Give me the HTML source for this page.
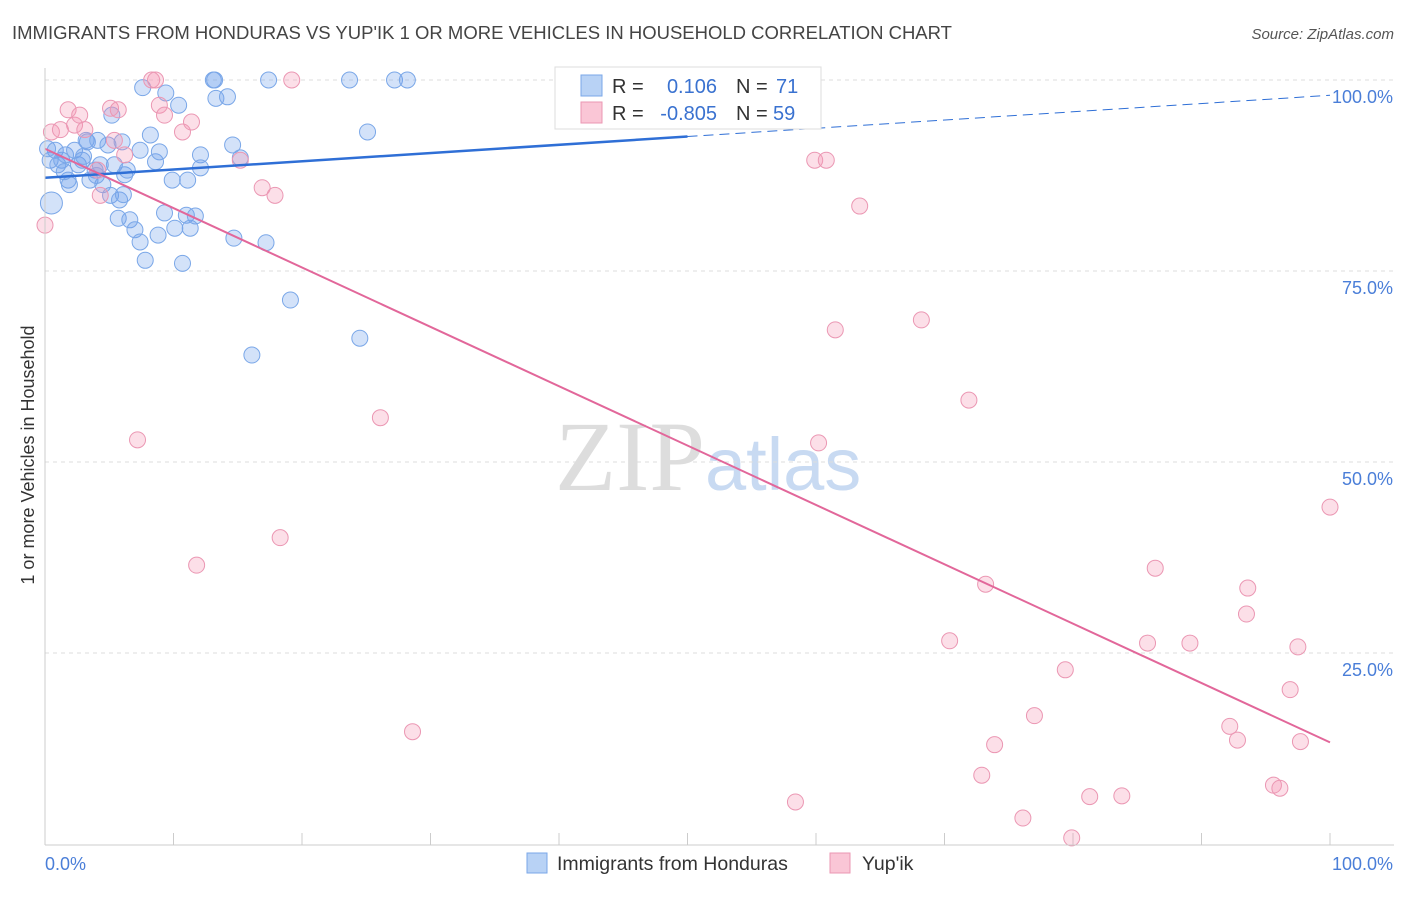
<!DOCTYPE html>
<html><head><meta charset="utf-8"><style>
body{margin:0;background:#fff;font-family:"Liberation Sans",sans-serif;}
svg text{font-family:"Liberation Sans",sans-serif;}
</style></head><body>
<svg id="chart" width="1406" height="892" xmlns="http://www.w3.org/2000/svg">
<text x="12" y="39" font-size="18.5" fill="#444">IMMIGRANTS FROM HONDURAS VS YUP'IK 1 OR MORE VEHICLES IN HOUSEHOLD CORRELATION CHART</text>
<text x="1394" y="39" font-size="15" fill="#555" font-style="italic" text-anchor="end">Source: ZipAtlas.com</text>
<text x="555" y="490" font-size="100"><tspan fill="#ddd" font-family="Liberation Serif">ZIP</tspan><tspan fill="#c8daf2" font-size="74">atlas</tspan></text>
<text transform="translate(34,455) rotate(-90)" font-size="18" fill="#333" text-anchor="middle">1 or more Vehicles in Household</text>
<g id="grid"></g><g id="ticks"></g><g id="marks"></g><g id="trends"></g>
<line x1="45" y1="68" x2="45" y2="845" stroke="#ccc"/>
<line x1="45" y1="845" x2="1394" y2="845" stroke="#ccc"/>
<text x="45" y="870" font-size="18" fill="#4a7ed8">0.0%</text>
<text x="1393" y="870" font-size="18" fill="#4a7ed8" text-anchor="end">100.0%</text>
<g>
<rect x="555" y="67" width="266" height="62" fill="#fff" stroke="#ddd"/>
<rect x="581" y="75" width="21" height="21" fill="#b8d2f5" stroke="#7aa7e8"/>
<rect x="581" y="102" width="21" height="21" fill="#fac6d6" stroke="#eb97b3"/>
<text x="612" y="93" font-size="20" fill="#333">R =</text><text x="717" y="93" font-size="20" fill="#3a72d0" text-anchor="end">0.106</text>
<text x="736" y="93" font-size="20" fill="#333">N =</text><text x="776" y="93" font-size="20" fill="#3a72d0">71</text>
<text x="612" y="120" font-size="20" fill="#333">R =</text><text x="717" y="120" font-size="20" fill="#3a72d0" text-anchor="end">-0.805</text>
<text x="736" y="120" font-size="20" fill="#333">N =</text><text x="773" y="120" font-size="20" fill="#3a72d0">59</text>
</g>
<g>
<rect x="527" y="853" width="20" height="20" fill="#b8d2f5" stroke="#7aa7e8"/>
<text x="557" y="870" font-size="19.5" fill="#333">Immigrants from Honduras</text>
<rect x="830" y="853" width="20" height="20" fill="#fac6d6" stroke="#eb97b3"/>
<text x="862" y="870" font-size="19.5" fill="#333">Yup'ik</text>
</g>
</svg>
<script>
const yTicks=[100,75,50,25];
const yTickLabels=["100.0%","75.0%","50.0%","25.0%"];
const xTicks=[0,10,20,30,40,50,60,70,80,90,100];
const blueX=[0.4,0.5,0.8,1.0,1.3,1.6,1.8,1.9,2.3,2.6,2.9,3.2,3.3,3.5,3.9,4.1,4.3,4.5,4.9,5.1,5.2,5.4,5.7,5.8,6.0,6.2,6.4,6.6,7.0,7.4,7.8,7.4,7.6,8.2,8.6,8.8,8.9,9.3,9.4,9.9,10.1,10.4,10.7,11.0,11.1,11.3,11.7,12.1,12.1,13.1,13.2,13.3,14.2,14.6,14.7,15.2,16.1,17.2,17.4,19.1,23.7,24.5,25.1,27.2,28.2,40.5,0.2,1.5,3.0,4.0,6.1];
const blueY=[89.5,83.9,90.8,88.9,89.5,90.2,86.9,86.3,90.8,88.9,89.5,92.1,91.9,86.9,88.2,92.1,88.9,86.3,91.5,84.9,95.4,88.9,81.9,84.3,91.9,87.6,88.2,81.7,80.4,78.8,76.4,90.8,99.0,92.8,89.3,79.7,90.6,82.6,98.3,86.9,80.6,96.7,76.0,82.3,86.9,80.6,82.2,90.2,88.5,100,100,97.6,97.8,91.5,79.3,89.8,64.0,78.7,100,71.2,100,66.2,93.2,100,100,100,91.0,88.0,90.0,87.5,85.0];
const blueSize=[8,11,8,8,8,8,8,8,8,8,8,8,8,8,8,8,8,8,8,8,8,8,8,8,8,8,8,8,8,8,8,8,8,8,8,8,8,8,8,8,8,8,8,8,8,8,8,8,8,8,8,8,8,8,8,8,8,8,8,8,8,8,8,8,8,8,8,8,8,8,8];
const pinkX=[0,0.5,1.2,1.8,2.3,2.7,3.1,4.1,4.3,5.1,5.4,5.7,6.2,7.2,8.3,8.6,8.9,9.3,10.7,11.4,11.8,15.2,16.9,17.9,18.3,19.2,26.1,28.6,58.4,59.9,60.8,60.2,61.5,63.4,68.2,70.4,71.9,72.9,73.2,73.9,76.1,77.0,79.4,79.9,81.3,83.8,85.8,86.4,89.1,92.2,92.8,93.5,93.6,95.6,96.1,96.9,97.5,97.7,100];
const pinkY=[81.0,93.2,93.5,96.1,94.1,95.4,93.5,88.2,84.9,96.3,92.1,96.1,90.2,52.9,100,100,96.7,95.4,93.2,94.5,36.5,89.5,85.9,84.9,40.1,100,55.8,14.7,5.5,89.5,89.5,52.5,67.3,83.5,68.6,26.6,58.1,9.0,34.0,13.0,3.4,16.8,22.8,0.8,6.2,6.3,26.3,36.1,26.3,15.4,13.6,30.1,33.5,7.7,7.3,20.2,25.8,13.4,44.1];
const blueTrend=[87.2,98.0];
const pinkTrend=[91.0,13.3];
const blueSolidEnd=50;
const sx=v=>45+v*12.85, sy=v=>844-v*7.64;
const NS="http://www.w3.org/2000/svg";
function mk(t,a,p){const e=document.createElementNS(NS,t);for(const k in a)e.setAttribute(k,a[k]);document.getElementById(p).appendChild(e);return e;}
yTicks.forEach((v,i)=>{
 const l=mk('line',{x1:45,x2:1394,y1:sy(v),y2:sy(v),stroke:'#ddd','stroke-dasharray':'4,4'},'grid');
 
 
 const t=mk('text',{x:1393,y:sy(v)+23,'font-size':18,fill:'#4a7ed8','text-anchor':'end'},'grid');
 t.textContent=yTickLabels[i];
 
 
});
xTicks.forEach(v=>{
 const l=mk('line',{x1:sx(v),x2:sx(v),y1:833,y2:845,stroke:'#ccc'},'ticks');
 
 
});
blueX.forEach((x,i)=>{
 const c=mk('circle',{cx:sx(x),cy:sy(blueY[i]),r:blueSize[i]||8,fill:'rgba(110,160,235,0.3)',stroke:'#7aa7e8','stroke-width':1},'marks');
 
 
});
pinkX.forEach((x,i)=>{
 const c=mk('circle',{cx:sx(x),cy:sy(pinkY[i]),r:8,fill:'rgba(245,150,180,0.3)',stroke:'#eb97b3','stroke-width':1},'marks');
 
 
});
const bAt=x=>blueTrend[0]+(blueTrend[1]-blueTrend[0])*x/100;
let l=mk('line',{x1:sx(0),y1:sy(bAt(0)),x2:sx(blueSolidEnd),y2:sy(bAt(blueSolidEnd)),stroke:'#2f6fd6','stroke-width':2.5},'trends');


l=mk('line',{x1:sx(blueSolidEnd),y1:sy(bAt(blueSolidEnd)),x2:sx(100),y2:sy(bAt(100)),stroke:'#2f6fd6','stroke-width':1,'stroke-dasharray':'10,6'},'trends');


l=mk('line',{x1:sx(0),y1:sy(pinkTrend[0]),x2:sx(100),y2:sy(pinkTrend[1]),stroke:'#e2679a','stroke-width':2},'trends');


</script>
</body></html>
